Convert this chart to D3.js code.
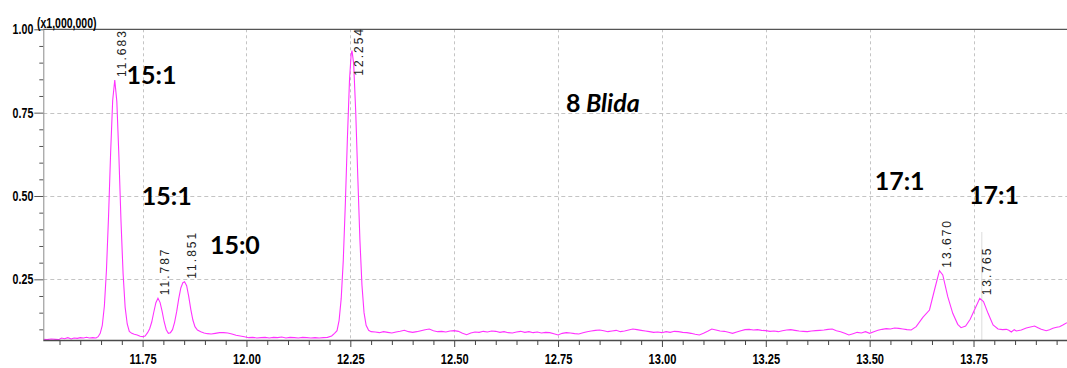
<!DOCTYPE html>
<html><head><meta charset="utf-8">
<script src="https://cdn.jsdelivr.net/npm/d3@7"></script>
<style>body{margin:0;background:#fff;} svg{display:block;background:#fff}</style>
</head><body><svg id="c" width="1067" height="368"></svg>
<script>
// ---- data (intensity in units of 1,000,000) ----
const retentionTimes = [
11.511,11.520,11.530,11.540,11.548,11.555,11.562,11.570,11.578,11.585,11.593,11.600,11.608,11.615,11.622,11.630,11.638,11.643,
11.648,11.653,11.658,11.663,11.668,11.673,11.678,11.683,11.688,11.693,11.698,11.703,11.708,11.713,11.718,11.724,11.730,11.737,11.744,11.750,11.756,11.762,
11.767,11.772,11.777,11.782,11.787,11.792,11.797,11.802,11.807,11.812,11.817,11.822,11.827,11.832,11.837,11.842,11.847,11.851,11.856,11.861,11.866,11.871,11.876,11.882,
11.890,11.898,11.906,11.915,11.925,11.935,11.945,11.955,11.965,11.975,11.985,11.995,12.005,12.015,12.025,12.035,12.045,12.055,12.065,12.075,12.085,12.095,12.105,12.115,12.125,12.135,12.145,12.155,12.165,12.175,12.185,12.195,12.205,12.212,
12.218,12.223,12.228,12.233,12.238,12.243,12.248,12.252,12.254,12.258,12.263,12.268,12.273,12.278,12.283,12.288,12.294,12.300,
12.310,12.320,12.330,12.340,12.350,12.360,12.370,12.380,12.390,12.400,12.410,12.420,12.430,12.440,12.450,12.460,12.470,12.480,12.490,12.500,
12.510,12.520,12.530,12.540,12.550,12.560,12.570,12.580,12.590,12.600,12.610,12.620,12.630,12.640,12.650,12.660,12.670,12.680,12.690,12.700,
12.710,12.720,12.730,12.740,12.750,12.760,12.770,12.780,12.790,12.800,12.810,12.820,12.830,12.840,12.850,12.860,12.870,12.880,12.890,12.900,
12.910,12.920,12.930,12.940,12.950,12.960,12.970,12.980,12.990,13.000,13.010,13.020,13.030,13.040,13.050,13.060,13.070,13.080,13.090,13.100,
13.110,13.120,13.130,13.140,13.150,13.160,13.170,13.180,13.190,13.200,13.210,13.220,13.230,13.240,13.250,13.260,13.270,13.280,13.290,13.300,
13.310,13.320,13.330,13.340,13.350,13.360,13.370,13.380,13.390,13.400,13.410,13.420,13.430,13.440,13.450,13.460,13.470,13.480,13.490,13.500,
13.510,13.520,13.530,13.540,13.550,13.560,13.570,13.580,13.590,13.600,
13.612,13.628,13.644,13.656,13.668,13.676,13.688,13.700,13.712,13.720,13.731,13.742,13.753,13.765,13.774,13.785,13.797,13.809,
13.820,13.829,13.835,13.841,13.848,13.853,13.865,13.877,13.887,13.897,13.905,13.913,13.925,13.933,13.941,13.950,13.957,13.965,13.975
];
const intensities = [
0.070,0.069,0.071,0.070,0.069,0.074,0.072,0.075,0.071,0.074,0.073,0.075,0.074,0.076,0.074,0.075,0.074,0.078,
0.088,0.112,0.170,0.277,0.438,0.628,0.787,0.848,0.783,0.618,0.425,0.268,0.166,0.116,0.094,0.088,0.085,0.083,0.079,0.078,0.080,0.090,
0.102,0.122,0.152,0.180,0.193,0.181,0.154,0.122,0.099,0.088,0.090,0.099,0.121,0.153,0.192,0.224,0.240,0.243,0.231,0.199,0.160,0.128,0.108,0.098,
0.093,0.089,0.087,0.086,0.088,0.090,0.090,0.089,0.086,0.082,0.080,0.078,0.075,0.076,0.074,0.075,0.076,0.074,0.076,0.075,0.077,0.074,0.076,0.075,0.074,0.076,0.075,0.074,0.075,0.074,0.075,0.076,0.080,0.088,
0.096,0.127,0.192,0.306,0.477,0.675,0.848,0.925,0.936,0.898,0.752,0.556,0.370,0.232,0.150,0.112,0.097,0.093,
0.092,0.090,0.093,0.091,0.089,0.092,0.094,0.097,0.093,0.091,0.093,0.096,0.099,0.101,0.096,0.093,0.094,0.092,0.095,0.096,
0.094,0.088,0.084,0.089,0.092,0.091,0.094,0.092,0.095,0.094,0.091,0.093,0.090,0.089,0.092,0.094,0.091,0.093,0.090,0.092,
0.089,0.091,0.090,0.087,0.083,0.088,0.090,0.089,0.087,0.086,0.090,0.093,0.095,0.097,0.098,0.096,0.093,0.095,0.097,0.093,
0.095,0.098,0.101,0.099,0.097,0.095,0.093,0.091,0.092,0.090,0.093,0.091,0.094,0.093,0.091,0.090,0.088,0.085,0.083,0.088,
0.094,0.101,0.098,0.095,0.094,0.091,0.088,0.092,0.096,0.099,0.100,0.098,0.099,0.097,0.096,0.094,0.095,0.093,0.096,0.098,
0.099,0.097,0.095,0.094,0.093,0.095,0.096,0.097,0.098,0.100,0.101,0.096,0.093,0.088,0.083,0.087,0.091,0.089,0.093,0.088,
0.093,0.097,0.100,0.102,0.101,0.104,0.103,0.101,0.099,0.098,
0.108,0.136,0.158,0.218,0.276,0.263,0.198,0.148,0.115,0.105,0.110,0.130,0.160,0.193,0.183,0.148,0.113,0.101,
0.099,0.100,0.097,0.092,0.099,0.095,0.098,0.104,0.107,0.110,0.105,0.100,0.096,0.099,0.103,0.106,0.108,0.113,0.120
];
const peakTimes  = [11.683, 11.787, 11.851, 12.254, 13.670, 13.765];
const peakLabels = ["11.683", "11.787", "11.851", "12.254", "13.670", "13.765"];
const annotationTexts   = ["15:1", "15:1", "15:0", "17:1", "17:1", "8"];
const annotationItalic  = ["", "", "", "", "", "Blida"];
const annotationTimes   = [11.7115, 11.748, 11.912, 13.512, 13.739, 12.769];
const annotationLevels  = [0.836, 0.473, 0.326, 0.518, 0.476, 0.752];
const xMajorTicks = [11.75, 12.00, 12.25, 12.50, 12.75, 13.00, 13.25, 13.50, 13.75];
const xTickLabels = ["11.75", "12.00", "12.25", "12.50", "12.75", "13.00", "13.25", "13.50", "13.75"];
const yMajorTicks = [0.25, 0.50, 0.75, 1.00];
const yTickLabels = ["0.25", "0.50", "0.75", "1.00"];
const yUnitLabel = "(x1,000,000)";
const xDomain = [11.511, 13.975];
const yDomain = [0.068, 1.0];

// ---- layout ----
const W = 1067, H = 368;
const L = 43.3, T = 29.3, R = 1067, B = 340;
const svg = d3.select("#c");
const x = d3.scaleLinear().domain(xDomain).range([L, R]);
const y = d3.scaleLinear().domain(yDomain).range([B, T]);
const data = retentionTimes.map((t, i) => ({t, v: intensities[i]}));

svg.append("defs").append("clipPath").attr("id", "clip")
  .append("rect").attr("x", L).attr("y", T).attr("width", R - L).attr("height", B - T);

// grid
const grid = svg.append("g");
grid.selectAll("line.vx").data(xMajorTicks).join("line")
  .attr("x1", d => Math.round(x(d)) + 0.5).attr("x2", d => Math.round(x(d)) + 0.5)
  .attr("y1", T).attr("y2", B)
  .attr("stroke", "#c4c4c4").attr("stroke-width", 1).attr("stroke-dasharray", "3,3");
grid.selectAll("line.hy").data(yMajorTicks.filter(d => d < 1)).join("line")
  .attr("x1", L).attr("x2", R)
  .attr("y1", d => Math.round(y(d)) + 0.5).attr("y2", d => Math.round(y(d)) + 0.5)
  .attr("stroke", "#c4c4c4").attr("stroke-width", 1).attr("stroke-dasharray", "4,3");

// peak marker line
svg.append("line").attr("x1", x(13.770)).attr("x2", x(13.770)).attr("y1", 232).attr("y2", B)
  .attr("stroke", "#dcdcdc").attr("stroke-width", 1);

// trace
svg.append("path").datum(data)
  .attr("clip-path", "url(#clip)")
  .attr("fill", "none").attr("stroke", "#ff33ff").attr("stroke-width", 1.1)
  .attr("d", d3.line().x(d => x(d.t)).y(d => y(d.v)));

// axes
const fontAxis = "'Liberation Sans', Arial, sans-serif";
const xMinor = d3.range(11.55, 13.96, 0.05).filter(v => !xMajorTicks.some(m => Math.abs(m - v) < 1e-6));
const gxMinor = svg.append("g").attr("transform", `translate(0,${B})`)
  .call(d3.axisBottom(x).tickValues(xMinor).tickSize(5).tickFormat(""));
const gx = svg.append("g").attr("transform", `translate(0,${B})`)
  .call(d3.axisBottom(x).tickValues(xMajorTicks).tickSize(7).tickPadding(6.5).tickFormat((d, i) => xTickLabels[i]));
[gxMinor, gx].forEach(g => {
  g.select(".domain").remove();
  g.selectAll(".tick line").attr("stroke", "#444");
});
gx.selectAll(".tick text").attr("font-family", fontAxis).attr("font-size", 15).attr("font-weight", "bold")
  .attr("fill", "#000").attr("transform", "scale(0.74,1)");
svg.append("line").attr("x1", L).attr("x2", R).attr("y1", B + 0.5).attr("y2", B + 0.5)
  .attr("stroke", "#4a4a4a").attr("stroke-width", 1.3);

const yMinor = d3.range(0.10, 0.99, 0.05).filter(v => !yMajorTicks.some(m => Math.abs(m - v) < 1e-6));
const gyMinor = svg.append("g").attr("transform", `translate(${L},0)`)
  .call(d3.axisLeft(y).tickValues(yMinor).tickSize(4).tickFormat(""));
const gy = svg.append("g").attr("transform", `translate(${L},0)`)
  .call(d3.axisLeft(y).tickValues(yMajorTicks).tickSize(9).tickPadding(0).tickFormat((d, i) => yTickLabels[i]));
[gyMinor, gy].forEach(g => {
  g.select(".domain").remove();
  g.selectAll(".tick line").attr("stroke", "#555");
});
gy.selectAll(".tick text").attr("font-family", fontAxis).attr("font-size", 14).attr("font-weight", "bold")
  .attr("fill", "#000").attr("x", 0).attr("transform", "translate(-10,0) scale(0.76,1)");
svg.append("line").attr("x1", L + 0.5).attr("x2", L + 0.5).attr("y1", T).attr("y2", B)
  .attr("stroke", "#8a8a8a").attr("stroke-width", 1);
svg.append("line").attr("x1", L).attr("x2", R).attr("y1", T).attr("y2", T)
  .attr("stroke", "#555").attr("stroke-width", 1.3);

svg.append("text").attr("x", 0).attr("y", 0)
  .attr("transform", "translate(37,27.5) scale(0.7,1)")
  .attr("font-family", fontAxis).attr("font-size", 15).attr("font-weight", "bold")
  .attr("fill", "#000").text(yUnitLabel);

// peak labels
peakTimes.forEach((t, i) => {
  const near = data.filter(d => Math.abs(d.t - t) <= 0.006);
  const apex = d3.greatest(near, d => d.v);
  const px = x(t), py = y(apex.v);
  const txt = svg.append("text")
    .attr("font-family", fontAxis).attr("font-size", 12).attr("letter-spacing", "2px")
    .attr("fill", "#222").text(peakLabels[i]);
  const len = txt.node().getComputedTextLength();
  let bottom = py - 3;
  if (bottom - len < 27) bottom = 27 + len;
  txt.attr("transform", `translate(${px + 11},${bottom}) rotate(-90)`);
});

// annotations
annotationTexts.forEach((s, i) => {
  const t = svg.append("text")
    .attr("x", x(annotationTimes[i])).attr("y", y(annotationLevels[i]))
    .attr("font-family", "Lato, 'Open Sans', sans-serif").attr("font-weight", "bold")
    .attr("font-size", 25).attr("fill", "#000");
  t.append("tspan").text(s);
  if (annotationItalic[i]) t.append("tspan").attr("font-style", "italic").text(" " + annotationItalic[i]);
});
</script></body></html>
